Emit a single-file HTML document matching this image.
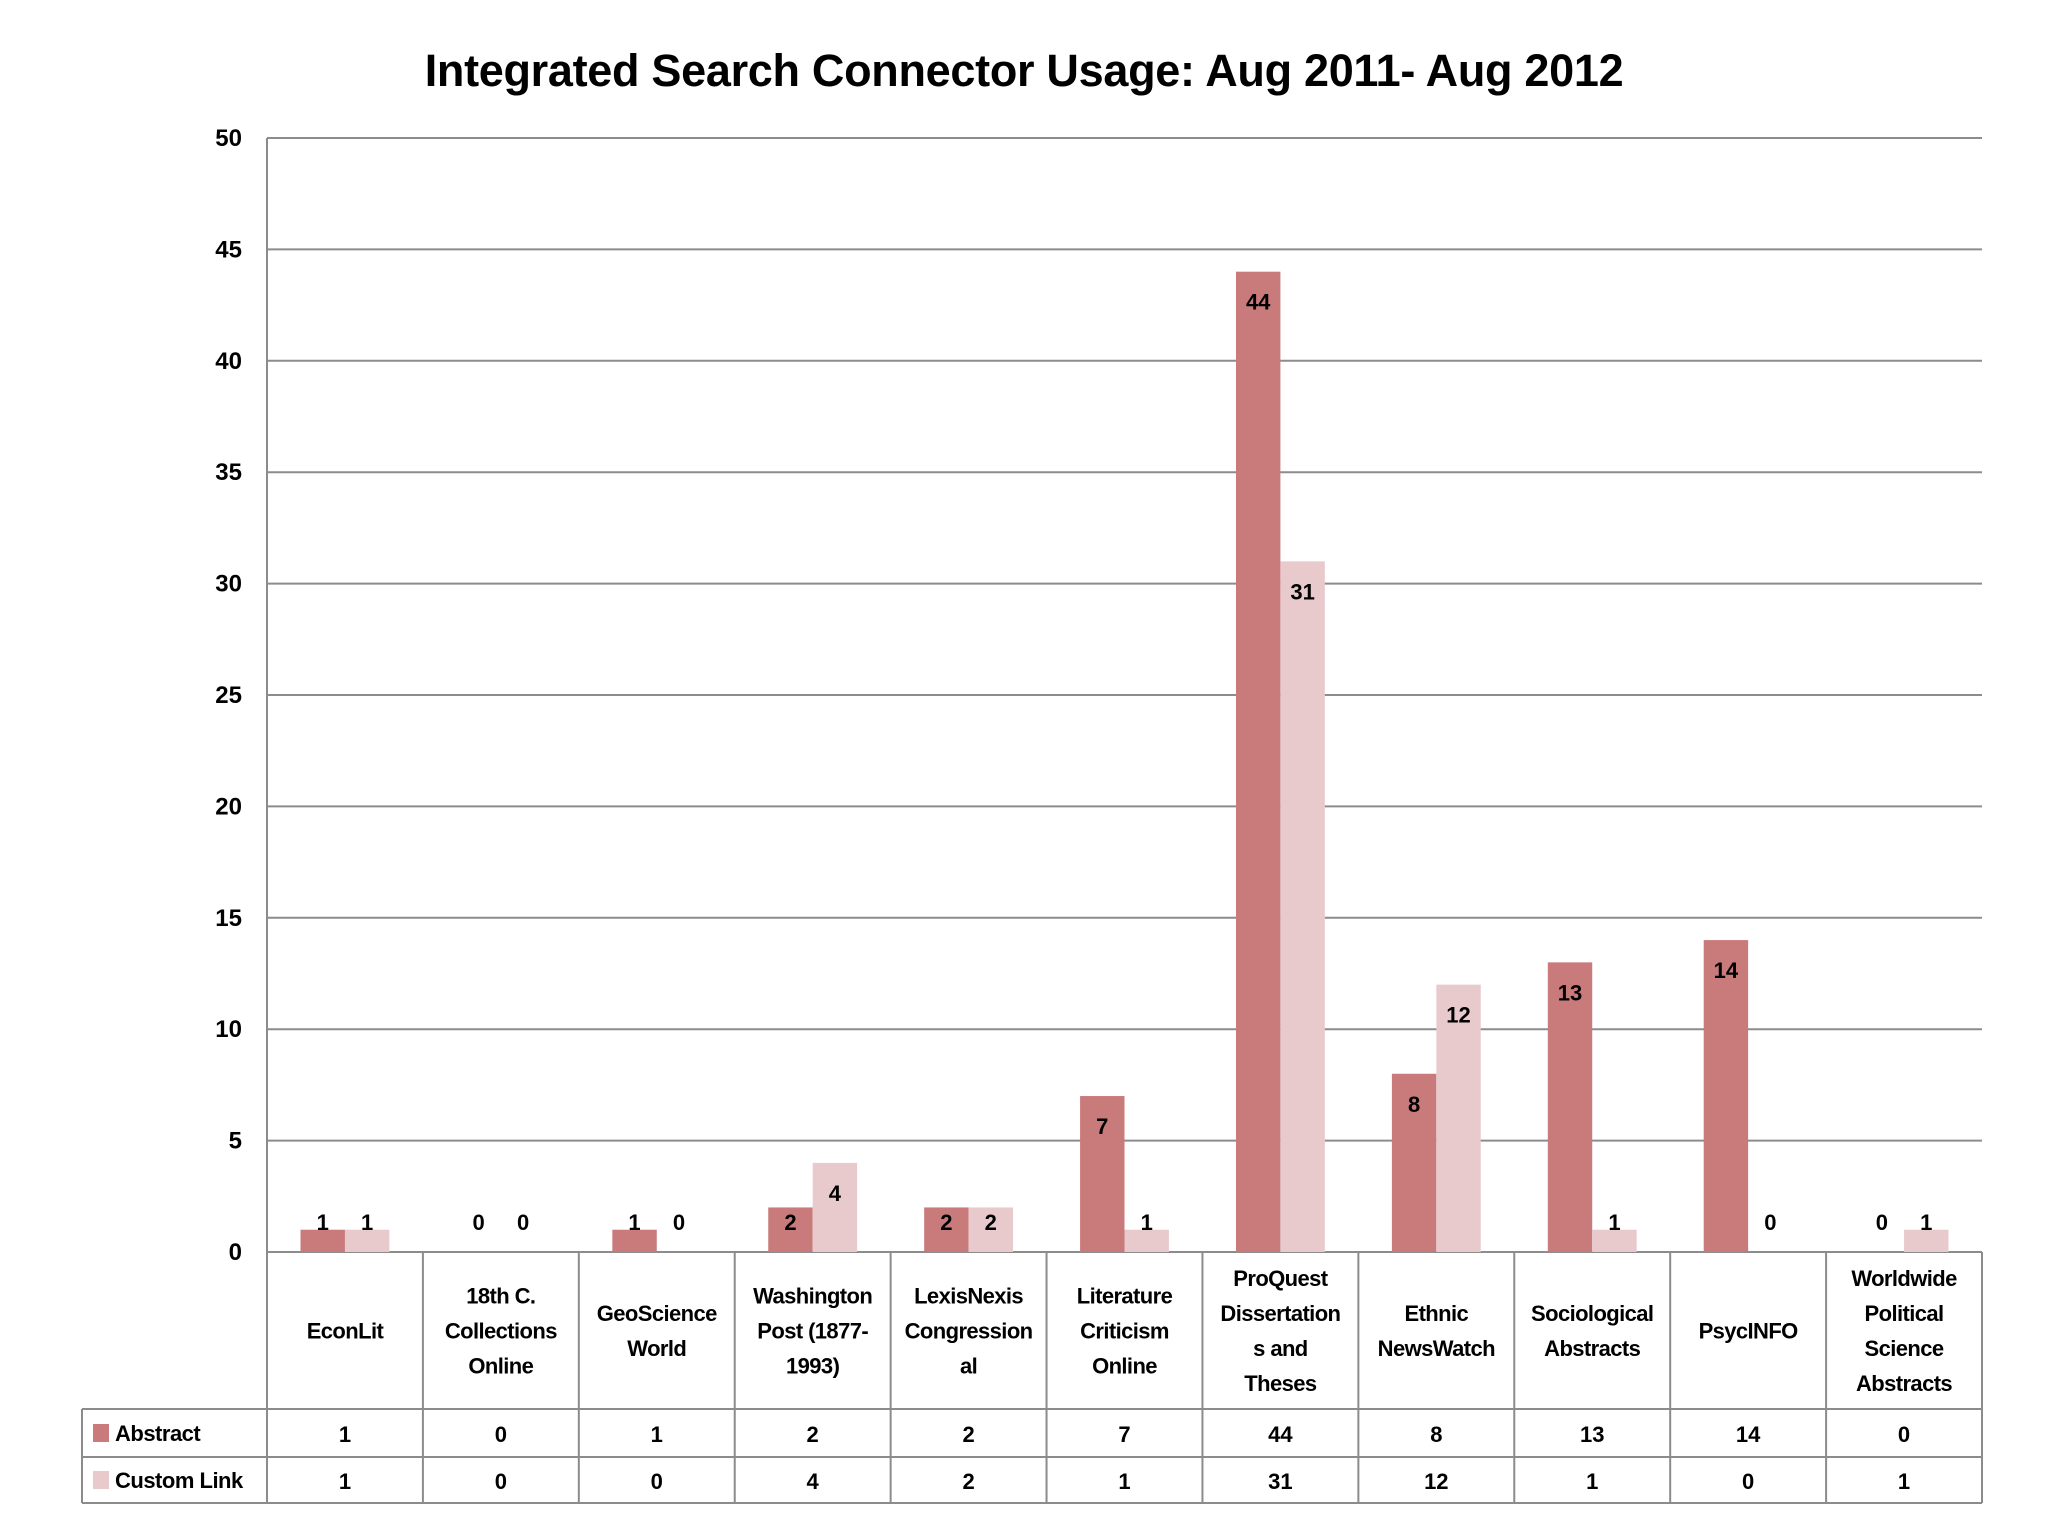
<!DOCTYPE html>
<html><head><meta charset="utf-8"><style>
html,body{margin:0;padding:0;background:#fff;}
svg{display:block;font-family:"Liberation Sans",sans-serif;font-weight:bold;}
</style></head><body>
<svg id="chart" width="2048" height="1536" viewBox="0 0 2048 1536" xmlns="http://www.w3.org/2000/svg">
<text x="1024" y="86" text-anchor="middle" font-size="45" letter-spacing="-0.3">Integrated Search Connector Usage: Aug 2011- Aug 2012</text>
<g id="grid"></g><g id="bars"></g><g id="table"></g>
</svg>
<script>
const categories = [["EconLit"],["18th C.","Collections","Online"],["GeoScience","World"],["Washington","Post (1877-","1993)"],["LexisNexis","Congression","al"],["Literature","Criticism","Online"],["ProQuest","Dissertation","s and","Theses"],["Ethnic","NewsWatch"],["Sociological","Abstracts"],["PsycINFO"],["Worldwide","Political","Science","Abstracts"]];
const abstractVals = [1,0,1,2,2,7,44,8,13,14,0];
const customVals = [1,0,0,4,2,1,31,12,1,0,1];
const yTicks = [0,5,10,15,20,25,30,35,40,45,50];
const seriesNames = ["Abstract","Custom Link"];
const colors = ["#c97b7b","#e8cacd"];

const NS="http://www.w3.org/2000/svg";
const L=267,R=1982,T=138,B=1252,yMax=50;
const cw=(R-L)/categories.length;
const y=v=>B-(v/yMax)*(B-T);
const x=i=>L+i*cw;
function mk(tag,attrs,parent,text){const e=document.createElementNS(NS,tag);for(const k in attrs)e.setAttribute(k,attrs[k]);if(text!==undefined)e.textContent=text;parent.appendChild(e);return e;}
const grid=document.getElementById('grid'),bars=document.getElementById('bars'),tbl=document.getElementById('table');
const gc="#8c8c8c";
yTicks.forEach(t=>{
  const ln=mk('line',{x1:L,x2:R,y1:y(t),y2:y(t),stroke:gc,'stroke-width':2},grid);
  
  
  const tx=mk('text',{x:242,y:y(t)+8,'text-anchor':'end','font-size':24},grid,String(t));
  
  
});
const bw=cw*0.285, gap=(cw-2*bw)/2;
[abstractVals,customVals].forEach((vals,s)=>{
  vals.forEach((v,i)=>{
    const bx=x(i)+gap+s*bw;
    if(v>0){
      const r=mk('rect',{x:bx,y:y(v),width:bw,height:B-y(v),fill:colors[s]},bars);
      
      
    }
    const cy=Math.min(y(v)+30,B-30);
    const lb=mk('text',{x:bx+bw/2,y:cy+8,'text-anchor':'middle','font-size':22},bars,String(v));
    
    
  });
});
const r1=1409,r2=1457,r3=1503,TL=82;
const lines=[[L,T,L,r3],[TL,r1,R,r1],[TL,r2,R,r2],[TL,r3,R,r3],[TL,r1,TL,r3],[R,B,R,r3]];
for(let i=1;i<categories.length;i++)lines.push([x(i),B,x(i),r3]);
lines.forEach(a=>{mk('line',{x1:a[0],y1:a[1],x2:a[2],y2:a[3],stroke:gc,'stroke-width':2},tbl);});
categories.forEach((c,i)=>{
  const cx=x(i)+cw/2, mid=(B+r1)/2, lh=35, start=mid-(c.length-1)*lh/2;
  c.forEach((ln,k)=>{
    const t=mk('text',{x:cx,y:start+k*lh+8,'text-anchor':'middle','font-size':22,'letter-spacing':'-0.6'},tbl,ln);
    
    
  });
});
[abstractVals,customVals].forEach((vals,s)=>{
  const ry=s?r2:r1, rh=s?r3-r2:r2-r1;
  const sw=mk('rect',{x:93,y:ry+rh/2-9,width:16,height:18,fill:colors[s]},tbl);
  
  
  const nm=mk('text',{x:115,y:ry+rh/2+8,'font-size':22,'letter-spacing':'-0.5'},tbl,seriesNames[s]);
  
  
  vals.forEach((v,i)=>{
    const t=mk('text',{x:x(i)+cw/2,y:ry+rh/2+9,'text-anchor':'middle','font-size':22},tbl,String(v));
    
    
  });
});
</script>
</body></html>
